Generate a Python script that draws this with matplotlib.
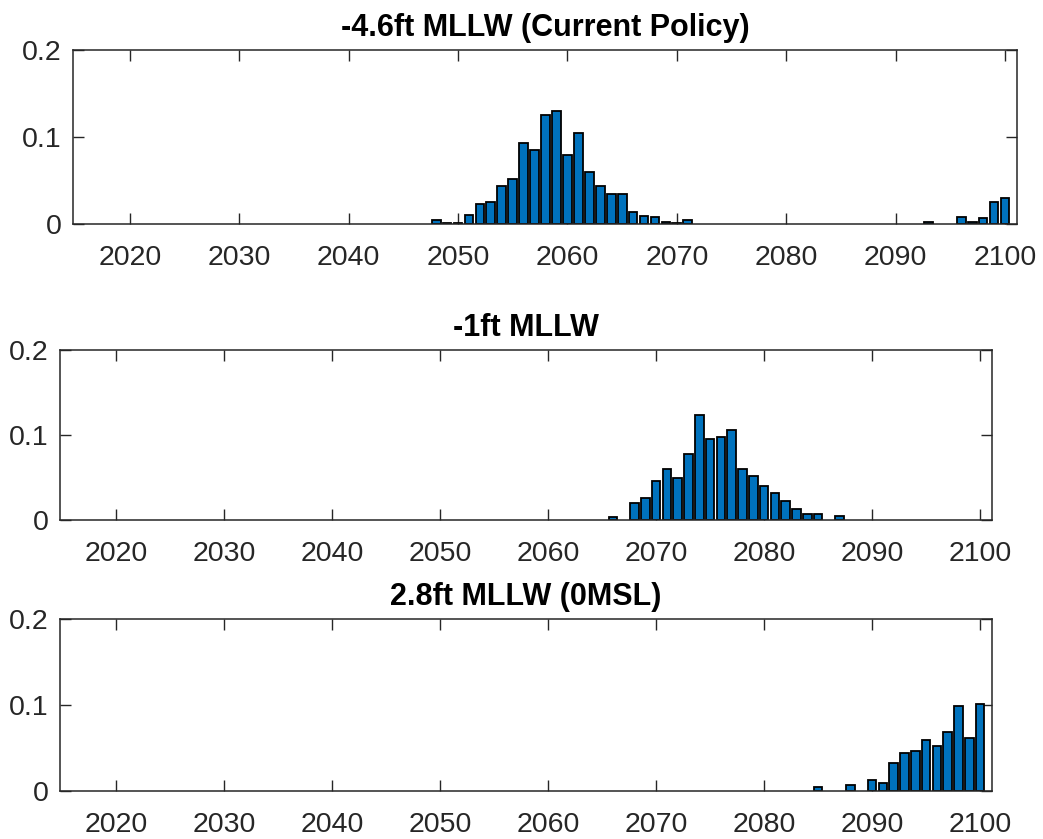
import matplotlib
matplotlib.use("Agg")
import matplotlib.pyplot as plt

plt.rcParams['font.family'] = ['Liberation Sans', 'DejaVu Sans']

# Probability of the threshold year for each tidal datum scenario
years_a = [2048, 2049, 2050, 2051, 2052, 2053, 2054, 2055, 2056, 2057, 2058, 2059,
           2060, 2061, 2062, 2063, 2064, 2065, 2066, 2067, 2068, 2069, 2070, 2071,
           2093, 2096, 2097, 2098, 2099, 2100]
probs_a = [0.005, 0.001, 0.001, 0.010, 0.023, 0.025, 0.044, 0.052, 0.093, 0.085, 0.125, 0.130,
           0.079, 0.105, 0.060, 0.044, 0.0345, 0.0345, 0.014, 0.0096, 0.0077, 0.002, 0.001, 0.005,
           0.002, 0.0077, 0.002, 0.0073, 0.025, 0.0295]

years_b = [2066, 2068, 2069, 2070, 2071, 2072, 2073, 2074, 2075, 2076, 2077, 2078,
           2079, 2080, 2081, 2082, 2083, 2084, 2085, 2087]
probs_b = [0.003, 0.020, 0.0255, 0.046, 0.060, 0.050, 0.078, 0.1235, 0.095, 0.098, 0.106, 0.060,
           0.052, 0.040, 0.032, 0.022, 0.0125, 0.0067, 0.0067, 0.005]

years_c = [2085, 2088, 2090, 2091, 2092, 2093, 2094, 2095, 2096, 2097, 2098, 2099, 2100]
probs_c = [0.005, 0.007, 0.0127, 0.0096, 0.032, 0.0446, 0.047, 0.0596, 0.052, 0.069, 0.099,
           0.062, 0.101]

titles = ['-4.6ft MLLW (Current Policy)', '-1ft MLLW', '2.8ft MLLW (0MSL)']
x_ticks = [2020, 2030, 2040, 2050, 2060, 2070, 2080, 2090, 2100]
y_ticks = [0, 0.1, 0.2]
y_tick_labels = ['0', '0.1', '0.2']

bar_color = '#0072BD'
axis_color = '#262626'

fig = plt.figure(figsize=(10.43, 8.39), dpi=100)
rects = [
    [0.0700, 0.7330, 0.9051, 0.2074],
    [0.0575, 0.3802, 0.8936, 0.2026],
    [0.0575, 0.0572, 0.8936, 0.2050],
]
series = [(years_a, probs_a), (years_b, probs_b), (years_c, probs_c)]

for rect, (yrs, vals), title in zip(rects, series, titles):
    ax = fig.add_axes(rect)
    ax.bar(yrs, vals, width=0.8, color=bar_color, edgecolor='black', linewidth=1.3, zorder=2)
    ax.set_xlim(2014.8, 2101.1)
    ax.set_ylim(0, 0.2)
    ax.set_xticks(x_ticks)
    ax.set_yticks(y_ticks)
    ax.set_yticklabels(y_tick_labels)
    ax.tick_params(direction='in', length=8, width=1, colors=axis_color,
                   top=True, right=True, labelsize=20.5)
    ax.tick_params(axis='x', pad=15)
    ax.tick_params(axis='y', pad=8)
    for s in ax.spines.values():
        s.set_color(axis_color)
        s.set_linewidth(1.1)
    ax.set_title(title, fontsize=22, fontweight='bold', color='black', pad=10)

fig.savefig('out.png', dpi=100, facecolor='white')
